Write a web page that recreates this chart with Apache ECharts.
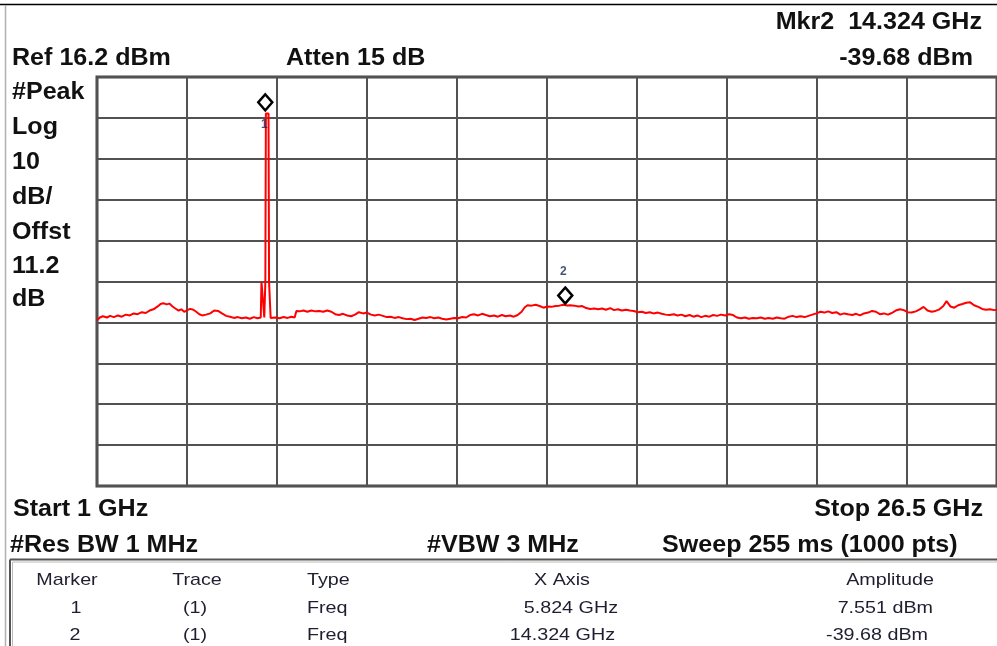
<!DOCTYPE html>
<html>
<head>
<meta charset="utf-8">
<script src="https://cdn.jsdelivr.net/npm/echarts@6/dist/echarts.min.js"></script>
<style>
html,body{margin:0;padding:0;background:#fff;}
#c{width:997px;height:646px;}
</style>
</head>
<body>
<div id="c"></div>
<script>
// Trace: frequency (GHz) and level (dBm)
var freqGHz = [
1.00,1.08,1.17,1.28,1.37,1.48,1.59,1.70,1.82,1.93,2.04,2.15,2.27,2.38,2.49,2.60,2.72,2.80,2.88,2.97,
3.05,3.14,3.22,3.31,3.39,3.47,3.56,3.64,3.73,3.81,3.90,3.98,4.09,4.21,4.32,4.43,4.54,4.66,4.77,4.88,
4.99,5.10,5.22,5.33,5.44,5.55,5.64,5.66,5.70,5.74,5.77,5.785,5.824,5.86,5.875,5.89,5.91,5.92,
5.95,6.06,6.17,6.29,6.40,6.51,6.60,6.65,6.74,6.85,6.96,7.07,7.19,7.30,7.41,7.52,7.64,7.75,7.86,7.97,
8.09,8.20,8.31,8.42,8.54,8.65,8.76,8.87,8.98,9.10,9.21,9.32,9.43,9.55,9.66,9.77,9.88,10.00,10.11,10.22,
10.33,10.45,10.56,10.67,10.78,10.90,11.01,11.12,11.23,11.35,11.46,11.57,11.68,11.80,11.91,12.02,12.13,12.25,12.36,12.47,
12.58,12.70,12.81,12.92,13.03,13.12,13.20,13.31,13.43,13.54,13.65,
13.76,13.88,13.99,14.10,14.21,14.324,14.41,14.52,14.64,14.75,14.86,14.97,15.09,15.20,15.31,15.42,15.54,15.65,15.76,15.87,
15.99,16.10,16.21,16.32,16.44,16.55,16.66,16.77,16.89,17.00,17.11,17.22,17.34,17.45,17.56,17.67,17.79,17.90,18.01,18.12,
18.23,18.35,18.46,18.57,18.68,18.80,18.91,19.02,19.13,19.25,19.36,19.47,19.58,19.70,19.81,19.92,
20.03,20.15,20.26,20.37,20.48,20.60,20.71,20.82,20.93,21.05,21.16,21.27,21.38,21.50,21.61,21.72,21.83,21.95,22.06,22.17,
22.28,22.40,22.51,22.62,22.73,22.85,22.96,23.07,23.18,23.30,23.41,23.52,23.63,23.75,23.86,23.97,24.08,24.20,24.31,24.42,
24.53,24.65,24.76,24.87,24.98,25.07,25.18,25.29,25.40,25.52,25.63,25.74,25.85,25.97,26.08,26.19,26.30,26.42,26.50
];
var levelDbm = [
-43.3,-42.6,-42.3,-42.6,-42.2,-42.5,-42.1,-42.4,-41.9,-42.1,-41.6,-41.8,-41.3,-41.5,-40.9,-40.6,-39.9,-39.3,-39.1,-39.4,
-39.2,-39.9,-40.4,-40.9,-40.6,-41.2,-40.8,-40.5,-40.7,-41.2,-41.8,-42.1,-41.9,-41.6,-40.9,-41.0,-41.6,-42.2,-42.4,-42.7,
-42.5,-42.8,-42.6,-42.9,-42.5,-42.8,-42.6,-33.9,-33.8,-42.6,-33.9,7.3,7.551,7.3,-33.9,-34.0,-34.1,-42.7,
-42.7,-42.6,-42.8,-42.5,-42.7,-42.4,-42.6,-41.0,-41.1,-40.9,-41.2,-40.9,-41.1,-41.0,-41.2,-40.9,-41.2,-41.8,-42.0,-41.7,
-42.1,-42.3,-41.9,-41.3,-41.6,-41.4,-41.9,-42.1,-41.9,-42.2,-42.5,-42.4,-42.7,-42.5,-42.8,-43.0,-42.9,-43.2,-42.9,-42.6,
-42.7,-42.5,-42.8,-42.6,-42.9,-43.1,-42.9,-42.7,-42.8,-42.5,-42.6,-42.0,-41.8,-42.1,-41.7,-42.0,-42.3,-42.1,-42.4,-42.0,
-42.3,-42.1,-42.4,-42.0,-41.2,-40.1,-39.6,-39.7,-39.5,-39.8,-40.2,
-39.9,-40.0,-39.8,-39.7,-39.5,-39.68,-39.6,-39.7,-39.9,-39.8,-40.3,-40.5,-40.4,-40.6,-40.4,-40.7,-40.3,-40.8,-40.6,-40.9,
-40.7,-40.9,-41.0,-41.3,-41.2,-41.5,-41.3,-41.6,-41.4,-41.7,-41.9,-42.0,-41.8,-42.1,-41.9,-42.3,-42.0,-42.4,-42.1,-42.5,
-42.2,-42.4,-42.0,-42.2,-41.9,-42.1,-41.8,-42.0,-42.6,-42.8,-42.6,-42.9,-42.7,-42.8,-42.6,-42.9,
-42.7,-42.9,-42.6,-42.8,-42.9,-42.4,-42.2,-42.5,-42.3,-42.5,-42.2,-41.9,-41.6,-41.2,-41.4,-41.1,-41.5,-41.3,-41.9,-41.6,
-41.8,-42.0,-41.7,-42.1,-41.6,-41.4,-41.0,-41.2,-41.8,-41.6,-41.9,-41.5,-40.9,-40.6,-40.8,-41.3,-41.4,-41.1,-40.6,-40.0,
-40.9,-41.2,-41.0,-40.6,-39.8,-38.6,-39.9,-40.2,-39.6,-39.3,-39.0,-38.9,-39.6,-40.0,-40.5,-40.7,-40.6,-40.8,-40.7
];
// Markers
var markerNames = ['1', '2'];
var markerFreq = [5.824, 14.324];
var markerAmp = [7.551, -39.68];
// Axis settings from the instrument
var startGHz = 1, stopGHz = 26.5;
var refLevel = 16.2, dbPerDiv = 10, divisions = 10;
// Table
var tableHeader = ['Marker', 'Trace', 'Type', 'X Axis', 'Amplitude'];
var tableRows = [
  ['1', '(1)', 'Freq', '5.824 GHz', '7.551 dBm'],
  ['2', '(1)', 'Freq', '14.324 GHz', '-39.68 dBm']
];

var chart = echarts.init(document.getElementById('c'), null, {renderer: 'canvas'});

var traceData = freqGHz.map(function (f, i) { return [f, levelDbm[i]]; });
var markerData = markerFreq.map(function (f, i) { return {name: markerNames[i], value: [f, markerAmp[i]]}; });

var BOLD = 'bold 24px "Liberation Sans", Arial, sans-serif';
var REG = '17px "Liberation Sans", Arial, sans-serif';
var SX = 1.045, SXT = 1.16;
function bt(text, x, y, align) {
  return {type: 'text', x: x, y: y, scaleX: SX, z: 10,
    style: {text: text, font: BOLD, fill: '#111', textAlign: align || 'left', textVerticalAlign: 'middle'}};
}
function rt(text, x, y, align) {
  return {type: 'text', x: x, y: y, scaleX: SXT, z: 10,
    style: {text: text, font: REG, fill: '#1e1e30', textAlign: align || 'left', textVerticalAlign: 'middle'}};
}

var graphics = [
  {type: 'line', shape: {x1: 0, y1: 4.5, x2: 997, y2: 4.5}, style: {stroke: '#000', lineWidth: 1.5}},
  {type: 'line', shape: {x1: 5.5, y1: 5, x2: 5.5, y2: 646}, style: {stroke: '#b0b0b0', lineWidth: 1.5}},
  {type: 'line', shape: {x1: 10, y1: 559.5, x2: 997, y2: 559.5}, style: {stroke: '#555', lineWidth: 2}},
  {type: 'line', shape: {x1: 10, y1: 559.5, x2: 10, y2: 646}, style: {stroke: '#555', lineWidth: 2}},
  {type: 'line', shape: {x1: 12.5, y1: 562, x2: 997, y2: 562}, style: {stroke: '#bbb', lineWidth: 1}},
  {type: 'line', shape: {x1: 12.5, y1: 562, x2: 12.5, y2: 646}, style: {stroke: '#bbb', lineWidth: 1}},
  bt('Mkr2  14.324 GHz', 982, 22, 'right'),
  bt('-39.68 dBm', 973, 58, 'right'),
  bt('Ref 16.2 dBm', 12, 58),
  bt('Atten 15 dB', 286, 58),
  bt('#Peak', 12, 92),
  bt('Log', 12, 127),
  bt('10', 12, 162),
  bt('dB/', 12, 197),
  bt('Offst', 12, 232),
  bt('11.2', 12, 266),
  bt('dB', 12, 299),
  bt('Start 1 GHz', 13, 509),
  bt('Stop 26.5 GHz', 983, 509, 'right'),
  bt('#Res BW 1 MHz', 10, 545),
  bt('#VBW 3 MHz', 427, 545),
  bt('Sweep 255 ms (1000 pts)', 662, 545),
  rt(tableHeader[0], 67, 580, 'center'),
  rt(tableHeader[1], 197, 580, 'center'),
  rt(tableHeader[2], 307, 580),
  rt(tableHeader[3], 562, 580, 'center'),
  rt(tableHeader[4], 890, 580, 'center'),
  rt(tableRows[0][0], 76, 608, 'center'),
  rt(tableRows[0][1], 195, 608, 'center'),
  rt(tableRows[0][2], 307, 608),
  rt(tableRows[0][3], 618, 608, 'right'),
  rt(tableRows[0][4], 933, 608, 'right'),
  rt(tableRows[1][0], 75, 635, 'center'),
  rt(tableRows[1][1], 195, 635, 'center'),
  rt(tableRows[1][2], 307, 635),
  rt(tableRows[1][3], 615, 635, 'right'),
  rt(tableRows[1][4], 928, 635, 'right')
];

chart.setOption({
  animation: false,
  backgroundColor: '#fff',
  grid: {left: 97, top: 77, width: 907, height: 409, show: true, borderColor: '#444', borderWidth: 3, backgroundColor: 'transparent'},
  xAxis: [
    {type: 'value', min: startGHz, max: stopGHz, show: false, splitLine: {show: false}},
    {type: 'value', min: 0, max: divisions, interval: 1, position: 'top',
      axisLine: {show: false}, axisTick: {show: false}, axisLabel: {show: false},
      splitLine: {show: true, lineStyle: {color: '#525252', width: 2}}}
  ],
  yAxis: [
    {type: 'value', min: refLevel - dbPerDiv * divisions, max: refLevel, show: false, splitLine: {show: false}},
    {type: 'value', min: 0, max: divisions, interval: 1, position: 'right',
      axisLine: {show: false}, axisTick: {show: false}, axisLabel: {show: false},
      splitLine: {show: true, lineStyle: {color: '#525252', width: 2}}}
  ],
  series: [
    {type: 'line', xAxisIndex: 0, yAxisIndex: 0, data: traceData, showSymbol: false, symbol: 'none',
      lineStyle: {color: '#ff0000', width: 2}, z: 3, silent: true},
    {type: 'scatter', xAxisIndex: 0, yAxisIndex: 0, data: markerData, symbol: 'diamond',
      symbolSize: [14, 16], symbolOffset: [-2, -10],
      itemStyle: {color: '#fff', borderColor: '#000', borderWidth: 2.5, opacity: 1}, z: 5, silent: true},
    {type: 'scatter', xAxisIndex: 0, yAxisIndex: 0, symbolSize: 0, z: 6, silent: true,
      data: [
        {name: markerNames[0], value: [markerFreq[0], markerAmp[0]], label: {offset: [-3, 12]}},
        {name: markerNames[1], value: [markerFreq[1], markerAmp[1]], label: {offset: [-4, -34]}}
      ],
      label: {show: true, position: 'inside', formatter: '{b}', color: '#1a2450',
        fontSize: 12, fontWeight: 'bold', fontFamily: '"Liberation Sans", Arial, sans-serif'}}
  ],
  graphic: graphics
});
</script>
</body>
</html>
